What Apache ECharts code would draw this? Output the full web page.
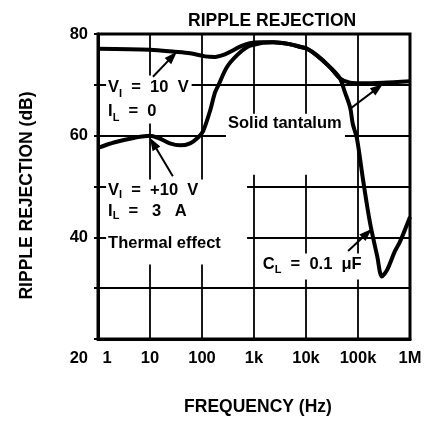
<!DOCTYPE html>
<html lang="en">
<head>
<meta charset="UTF-8">
<title>Ripple rejection</title>
<script src="https://cdn.jsdelivr.net/npm/echarts@6/dist/echarts.min.js"></script>
<style>
    html, body {margin: 0; padding: 0; background: #fff;}
    #main {width: 426px; height: 421px;}
</style>
</head>
<body>
<div id="main"></div>
<script type="text/javascript">
    // curve 1: VI = 10 V, IL = 0
    var freqNoLoad = [1, 10, 30, 59, 115, 178, 275, 380, 537, 832, 1320, 2340, 4900, 7590, 10500, 16200, 28800, 44700, 70800, 110000, 302000, 1000000];
    var dbNoLoad = [77.1, 76.9, 76.5, 76.2, 75.6, 75.5, 76.0, 76.7, 77.5, 78.2, 78.4, 78.4, 78.0, 77.5, 77.1, 75.8, 73.5, 71.3, 70.4, 70.3, 70.4, 70.7];
    // curve 2: VI = +10 V, IL = 3 A
    var freqLoad = [1, 2.1, 5.1, 10, 15.5, 24, 38, 59, 83, 105, 141, 178, 204, 302, 468, 759, 1150, 1480, 2340, 4900, 7590, 10500, 16200, 28800, 44700, 56200, 70800, 79400, 95500, 126000, 170000, 234000, 288000, 363000, 513000, 646000, 1000000];
    var dbLoad = [57.6, 58.7, 59.6, 60, 59.4, 58.5, 58.1, 58.5, 59.6, 60.9, 64.7, 68.5, 69.8, 73.5, 75.8, 77.5, 78.0, 78.3, 78.4, 78.0, 77.5, 77.1, 75.8, 73.5, 71.3, 68.5, 65.5, 62.3, 59.4, 51.1, 42.9, 36.3, 32.3, 33.6, 37.3, 39.2, 44.0];
    // axis ticks
    var freqTicks = [1, 10, 100, 1000, 10000, 100000, 1000000];
    var freqTickLabels = ['1', '10', '100', '1k', '10k', '100k', '1M'];
    var dbTickLabels = [20, 40, 60, 80];

    function pairs(xs, ys) {
        return xs.map(function (x, i) { return [x, ys[i]]; });
    }

    var FONT = 'Liberation Sans';
    var FS = 16.5;
    function ts(size, lh, extra) {
        var o = {fontFamily: FONT, fontSize: size, fontWeight: 'bold', color: '#000', lineHeight: lh};
        for (var k in extra) o[k] = extra[k];
        return o;
    }
    var sub = ts(11, 11, {verticalAlign: 'bottom'});

    var myChart = echarts.init(document.getElementById('main'));

    var option = {
        animation: false,
        backgroundColor: '#fff',
        title: {
            text: 'RIPPLE REJECTION',
            left: 183,
            top: 7,
            textStyle: {fontFamily: FONT, fontSize: 17.5, fontWeight: 'bold', color: '#000'}
        },
        grid: {
            left: 98, right: 16, top: 34, bottom: 71,
            show: true, borderColor: '#000', borderWidth: 3
        },
        xAxis: {
            type: 'log',
            logBase: 10,
            min: 1,
            max: 1000000,
            name: 'FREQUENCY (Hz)',
            nameLocation: 'middle',
            nameGap: 59,
            nameTextStyle: {fontFamily: FONT, fontSize: 17.5, fontWeight: 'bold', color: '#000', padding: [0, 0, 0, 8]},
            axisLine: {lineStyle: {color: '#000', width: 3}},
            axisTick: {show: false},
            splitLine: {show: true, lineStyle: {color: '#000', width: 1.8}},
            minorSplitLine: {show: false},
            axisLabel: {
                margin: 10,
                formatter: function (v) {
                    var i = Math.round(Math.log10(v));
                    var s = freqTickLabels[i];
                    return i === 0 ? '{first|' + s + '}' : '{n|' + s + '}';
                },
                rich: {
                    first: ts(FS, 18, {padding: [0, 0, 0, 18]}),
                    n: ts(FS, 18)
                }
            }
        },
        yAxis: {
            type: 'value',
            min: 20,
            max: 80,
            interval: 10,
            name: 'RIPPLE REJECTION (dB)',
            nameLocation: 'middle',
            nameGap: 62,
            nameTextStyle: {fontFamily: FONT, fontSize: 17.5, fontWeight: 'bold', color: '#000', padding: [0, 18, 0, 0]},
            axisLine: {lineStyle: {color: '#000', width: 3}},
            axisTick: {show: true, inside: false, length: 4, lineStyle: {color: '#000', width: 2}},
            splitLine: {show: true, lineStyle: {color: '#000', width: 1.8}},
            axisLabel: {
                margin: 10,
                formatter: function (v) {
                    if (dbTickLabels.indexOf(v) < 0) return '';
                    return v === 20 ? '{low|' + v + '}' : '{n|' + v + '}';
                },
                rich: {
                    low: ts(FS, 18, {padding: [38, 0, 0, 0]}),
                    n: ts(FS, 18)
                }
            }
        },
        series: [
            {
                name: 'VI = 10 V, IL = 0',
                type: 'line',
                data: pairs(freqNoLoad, dbNoLoad),
                smooth: 0.3,
                symbol: 'none',
                lineStyle: {color: '#000', width: 4},
                z: 3
            },
            {
                name: 'VI = +10 V, IL = 3 A',
                type: 'line',
                data: pairs(freqLoad, dbLoad),
                smooth: 0.3,
                symbol: 'none',
                lineStyle: {color: '#000', width: 4},
                z: 3,
                markPoint: {
                    z: 4,
                    symbol: 'circle',
                    symbolSize: 0,
                    silent: true,
                    label: {show: true, position: 'right', distance: 0},
                    data: [
                        {
                            name: 'a', coord: [1.43, 67.1],
                            label: {
                                formatter: '{a|V}{s|I}{a|  =  10  V}\n{a|I}{s|L}{a|  =  0}',
                                rich: {a: ts(FS, 24), s: sub},
                                backgroundColor: '#fff', padding: [0, 3, 0, 2]
                            }
                        },
                        {
                            name: 'b', coord: [1.43, 43.0],
                            label: {
                                formatter: '{b|V}{s|I}{b|  =  +10  V}\n{b|I}{s|L}{b|  =   3   A}\n{c|Thermal effect}',
                                rich: {b: ts(FS, 21), s: sub, c: ts(FS, 43)},
                                backgroundColor: '#fff', width: 139, padding: [0, 0, 0, 2]
                            }
                        },
                        {
                            name: 'c', coord: [289, 58.3],
                            label: {
                                formatter: '{d|Solid tantalum}',
                                rich: {d: ts(FS, 20)},
                                backgroundColor: '#fff', width: 117, padding: [0, 0, 41, 2]
                            }
                        },
                        {
                            name: 'd', coord: [1350, 34.25],
                            label: {
                                formatter: '{e|C}{s|L}{e|  =  0.1  \u03bcF}',
                                rich: {e: ts(FS, 22), s: sub},
                                backgroundColor: '#fff', padding: [0, 2, 4, 2]
                            }
                        }
                    ]
                },
                markLine: {
                    z: 6,
                    silent: true,
                    symbol: ['none', 'triangle'],
                    symbolSize: [9, 13],
                    label: {show: false},
                    itemStyle: {color: '#000'},
                    lineStyle: {color: '#000', width: 2, type: 'solid'},
                    data: [
                        [{coord: [11.4, 71.6]}, {coord: [27, 75.6]}],
                        [{coord: [27.5, 52.0]}, {coord: [11.5, 58.5]}],
                        [{coord: [70800, 65.3]}, {coord: [240000, 69.4]}],
                        [{coord: [64500, 37.3]}, {coord: [150000, 40.8]}]
                    ]
                }
            }
        ]
    };

    myChart.setOption(option);
</script>
</body>
</html>
